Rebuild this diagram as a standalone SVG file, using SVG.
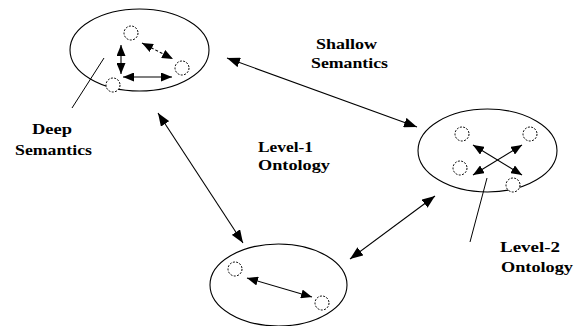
<svg xmlns="http://www.w3.org/2000/svg" width="582" height="326" viewBox="0 0 582 326">
  <style>
    .bg { fill: #ffffff; }
    .domain { fill: none; stroke: #000; stroke-width: 1.1; }
    .concept { fill: #fff; stroke: #000; stroke-width: 1; stroke-dasharray: 2 1.4; }
    .link { fill: none; stroke: #000; stroke-width: 1.1; marker-start: url(#head); marker-end: url(#head); }
    .rel { fill: none; stroke: #000; stroke-width: 1.1; marker-start: url(#head-s); marker-end: url(#head-s); }
    .rel-dash { stroke-dasharray: 3 2; }
    .leader { fill: none; stroke: #000; stroke-width: 1; }
    .label { font-family: "Liberation Serif", "Times New Roman", serif; font-weight: bold; font-size: 15px; fill: #000; }
  </style>
  <defs>
    <marker id="head" markerUnits="userSpaceOnUse" markerWidth="13" markerHeight="10" refX="13" refY="5" orient="auto-start-reverse">
      <path d="M0,0 L13,5 L0,10 z" fill="#000"/>
    </marker>
    <marker id="head-s" markerUnits="userSpaceOnUse" markerWidth="11" markerHeight="9" refX="11" refY="4.5" orient="auto-start-reverse">
      <path d="M0,0 L11,4.5 L0,9 z" fill="#000"/>
    </marker>
  </defs>

  <rect class="bg" x="0" y="0" width="582" height="326"/>

  <!-- upper-left domain: deep semantics -->
  <g id="node-deep">
    <ellipse class="domain" cx="139.5" cy="50" rx="69.5" ry="41"/>
    <circle class="concept" cx="131" cy="33" r="7"/>
    <circle class="concept" cx="182" cy="68" r="7"/>
    <circle class="concept" cx="113" cy="85" r="7"/>
    <line class="rel" x1="121" y1="45" x2="121" y2="74"/>
    <line class="rel" x1="123" y1="77" x2="172" y2="77"/>
    <line class="rel rel-dash" x1="142" y1="43" x2="173" y2="59"/>
  </g>

  <!-- right domain: level-2 ontology -->
  <g id="node-level2">
    <ellipse class="domain" cx="487.5" cy="150.5" rx="69.5" ry="41.5"/>
    <circle class="concept" cx="462" cy="134" r="7"/>
    <circle class="concept" cx="530" cy="134" r="7"/>
    <circle class="concept" cx="460" cy="168" r="7"/>
    <circle class="concept" cx="513" cy="185" r="7"/>
    <line class="rel" x1="473" y1="145" x2="522" y2="175"/>
    <line class="rel" x1="522" y1="145" x2="473" y2="175"/>
  </g>

  <!-- bottom domain -->
  <g id="node-bottom">
    <ellipse class="domain" cx="278.5" cy="285" rx="68.5" ry="41"/>
    <circle class="concept" cx="235" cy="269" r="7"/>
    <circle class="concept" cx="322" cy="303" r="7"/>
    <line class="rel" x1="247" y1="278" x2="312" y2="297"/>
  </g>

  <!-- connectors between domains -->
  <g id="connectors">
    <line class="link" x1="227" y1="58" x2="417" y2="127"/>
    <line class="link" x1="158" y1="113" x2="243" y2="243"/>
    <line class="link" x1="350" y1="259" x2="435" y2="196"/>
    <line class="leader" x1="104" y1="58" x2="72" y2="108"/>
    <line class="leader" x1="487" y1="178" x2="470" y2="242"/>
  </g>

  <!-- labels -->
  <g id="labels">
    <text class="label" x="32" y="134" textLength="40" lengthAdjust="spacingAndGlyphs">Deep</text>
    <text class="label" x="15" y="155" textLength="77" lengthAdjust="spacingAndGlyphs">Semantics</text>
    <text class="label" x="316" y="49" textLength="61" lengthAdjust="spacingAndGlyphs">Shallow</text>
    <text class="label" x="311" y="68" textLength="77" lengthAdjust="spacingAndGlyphs">Semantics</text>
    <text class="label" x="258" y="152" textLength="55" lengthAdjust="spacingAndGlyphs">Level-1</text>
    <text class="label" x="258" y="170" textLength="72" lengthAdjust="spacingAndGlyphs">Ontology</text>
    <text class="label" x="500" y="252" textLength="60" lengthAdjust="spacingAndGlyphs">Level-2</text>
    <text class="label" x="501" y="272" textLength="72" lengthAdjust="spacingAndGlyphs">Ontology</text>
  </g>
</svg>
